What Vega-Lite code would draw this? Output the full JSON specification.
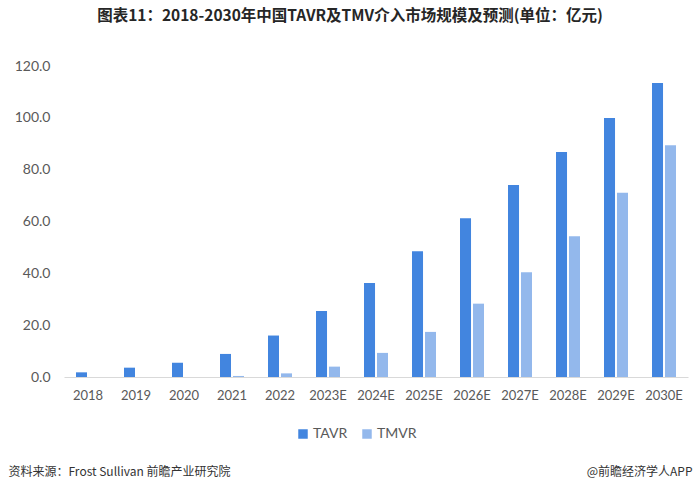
{
  "$schema": "https://vega.github.io/schema/vega-lite/v6.json",
  "autosize": {"type": "none"},
  "width": 624,
  "height": 311,
  "padding": {"left": 64, "top": 66, "right": 12, "bottom": 116},
  "background": "white",
  "title": {
    "text": "图表11：2018-2030年中国TAVR及TMV介入市场规模及预测(单位：亿元)",
    "font": "Noto Sans CJK SC",
    "fontSize": 15.5,
    "fontWeight": "bold",
    "color": "#262626",
    "anchor": "middle",
    "dx": -26,
    "offset": 35
  },
  "data": {
    "values": [
      {"year": "2018", "type": "TAVR", "value": 1.8},
      {"year": "2018", "type": "TMVR", "value": 0},
      {"year": "2019", "type": "TAVR", "value": 3.6},
      {"year": "2019", "type": "TMVR", "value": 0},
      {"year": "2020", "type": "TAVR", "value": 5.5},
      {"year": "2020", "type": "TMVR", "value": 0},
      {"year": "2021", "type": "TAVR", "value": 8.9},
      {"year": "2021", "type": "TMVR", "value": 0.4},
      {"year": "2022", "type": "TAVR", "value": 16.0},
      {"year": "2022", "type": "TMVR", "value": 1.4},
      {"year": "2023E", "type": "TAVR", "value": 25.5},
      {"year": "2023E", "type": "TMVR", "value": 4.0},
      {"year": "2024E", "type": "TAVR", "value": 36.3},
      {"year": "2024E", "type": "TMVR", "value": 9.3},
      {"year": "2025E", "type": "TAVR", "value": 48.5},
      {"year": "2025E", "type": "TMVR", "value": 17.4},
      {"year": "2026E", "type": "TAVR", "value": 61.3},
      {"year": "2026E", "type": "TMVR", "value": 28.3},
      {"year": "2027E", "type": "TAVR", "value": 74.1},
      {"year": "2027E", "type": "TMVR", "value": 40.4},
      {"year": "2028E", "type": "TAVR", "value": 86.8},
      {"year": "2028E", "type": "TMVR", "value": 54.3},
      {"year": "2029E", "type": "TAVR", "value": 99.9},
      {"year": "2029E", "type": "TMVR", "value": 71.1},
      {"year": "2030E", "type": "TAVR", "value": 113.4},
      {"year": "2030E", "type": "TMVR", "value": 89.4}
    ]
  },
  "mark": {"type": "bar"},
  "encoding": {
    "x": {
      "field": "year",
      "type": "nominal",
      "sort": null,
      "scale": {"paddingInner": 0.5, "paddingOuter": 0.25},
      "axis": {
        "title": "资料来源：Frost Sullivan 前瞻产业研究院",
        "titleFont": "Noto Sans CJK SC",
        "titleFontSize": 12,
        "titleFontWeight": "normal",
        "titleColor": "#333333",
        "titleAnchor": "start",
        "titleAlign": "left",
        "titleBaseline": "middle",
        "titleX": -56,
        "titleY": 94,
        "labelAngle": 0,
        "labelFont": "Lato",
        "labelFontSize": 13,
        "labelColor": "#595959",
        "labelPadding": 12,
        "ticks": false,
        "domainColor": "#d9d9d9",
        "domainWidth": 1
      }
    },
    "xOffset": {
      "field": "type",
      "type": "nominal",
      "scale": {"paddingInner": 0.15}
    },
    "y": {
      "field": "value",
      "type": "quantitative",
      "scale": {"domain": [0, 120]},
      "axis": {
        "values": [0, 20, 40, 60, 80, 100, 120],
        "format": ".1f",
        "grid": false,
        "domain": false,
        "ticks": false,
        "labelFont": "Lato",
        "labelFontSize": 14,
        "labelColor": "#595959",
        "labelPadding": 14,
        "title": "@前瞻经济学人APP",
        "titleFont": "Noto Sans CJK SC",
        "titleFontSize": 12,
        "titleFontWeight": "normal",
        "titleColor": "#333333",
        "titleAngle": 0,
        "titleAlign": "right",
        "titleBaseline": "middle",
        "titleX": 628,
        "titleY": 405
      }
    },
    "color": {
      "field": "type",
      "type": "nominal",
      "scale": {"domain": ["TAVR", "TMVR"], "range": ["#4285df", "#93b8ec"]},
      "legend": {
        "title": null,
        "orient": "none",
        "direction": "horizontal",
        "legendX": 232,
        "legendY": 361,
        "symbolType": "square",
        "symbolSize": 90,
        "symbolStrokeWidth": 0,
        "labelFont": "Lato",
        "labelFontSize": 14,
        "labelColor": "#595959",
        "columnPadding": 12,
        "labelOffset": 3
      }
    }
  },
  "config": {"view": {"stroke": null}}
}
